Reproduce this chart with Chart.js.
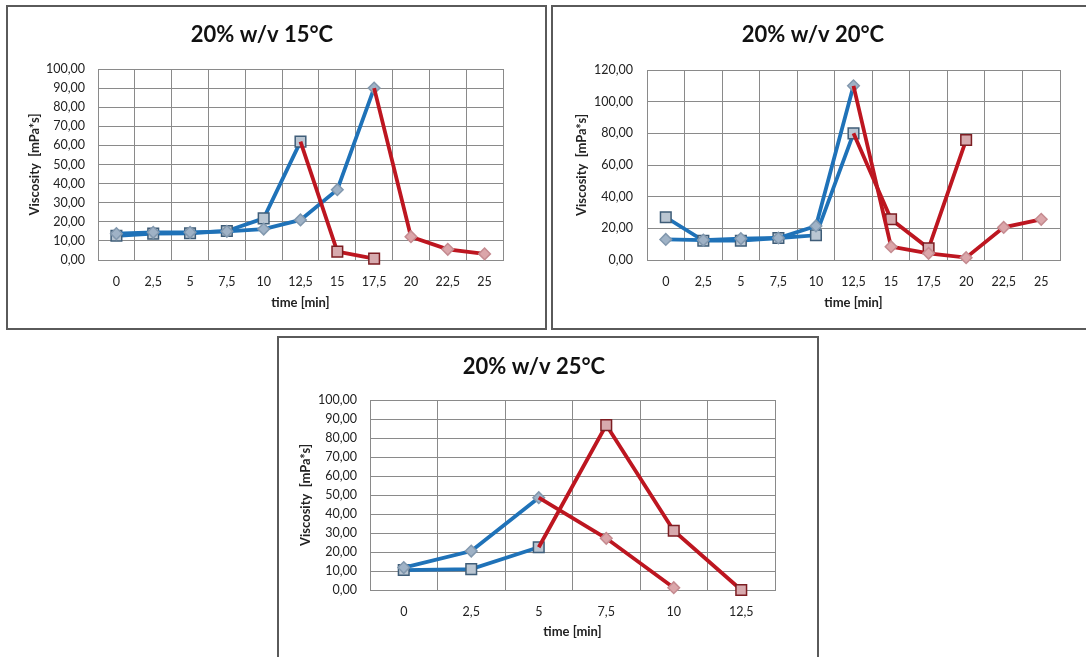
<!DOCTYPE html>
<html>
<head>
<meta charset="utf-8">
<script src="https://cdn.jsdelivr.net/npm/chart.js@4"></script>
<style>
  html, body { margin: 0; padding: 0; background: #fff; width: 1086px; height: 657px; overflow: hidden; }
  body { position: relative; }
  .box { position: absolute; border: 2px solid #5a5a5a; background: #fff; box-sizing: border-box; }
  .box canvas { position: absolute; left: 0; top: 0; }
</style>
</head>
<body>
<div class="box" style="left:6px;top:5px;width:541px;height:325px"><canvas id="c15" width="537" height="321"></canvas></div>
<div class="box" style="left:551px;top:5px;width:540px;height:325px"><canvas id="c20" width="536" height="321"></canvas></div>
<div class="box" style="left:277px;top:336px;width:542px;height:325px"><canvas id="c25" width="538" height="321"></canvas></div>
<script>
// Time points (min) for each temperature
const times15 = ['0', '2,5', '5', '7,5', '10', '12,5', '15', '17,5', '20', '22,5', '25'];
const times20 = ['0', '2,5', '5', '7,5', '10', '12,5', '15', '17,5', '20', '22,5', '25'];
const times25 = ['0', '2,5', '5', '7,5', '10', '12,5'];

// 15 °C viscosity [mPa*s]
const sqRise15 = [12.7, 13.8, 14, 15.2, 21.8, 62, null, null, null, null, null];
const sqFall15 = [null, null, null, null, null, 62, 4.4, 0.7, null, null, null];
const diRise15 = [13.8, 14.5, 14.5, 15, 16.2, 21, 36.8, 90, null, null, null];
const diFall15 = [null, null, null, null, null, null, null, 90, 12.2, 5.6, 3.2];

// 20 °C viscosity [mPa*s]
const sqRise20 = [27, 12.2, 12.2, 13.9, 15.6, 80, null, null, null, null, null];
const sqFall20 = [null, null, null, null, null, 80, 25.7, 7.4, 75.8, null, null];
const diRise20 = [13, 12.6, 13.5, 13.9, 21.5, 110, null, null, null, null, null];
const diFall20 = [null, null, null, null, null, 110, 8.4, 4.2, 1.5, 20.6, 25.7];

// 25 °C viscosity [mPa*s]
const sqRise25 = [10.5, 11, 22.5, null, null, null];
const sqFall25 = [null, null, 22.5, 86.8, 31.2, 0];
const diRise25 = [11.8, 20.5, 48.6, null, null, null];
const diFall25 = [null, null, 48.6, 27.2, 1.2, null];

const BLUE = '#1f72b8';
const RED = '#bd1620';

Chart.defaults.font.family = 'Lato, "Open Sans", sans-serif';
Chart.defaults.color = '#222';

function firstIndex(arr) {
  return arr.findIndex(v => v !== null);
}

// One line of the chart; the falling (red) part hides its first marker,
// which is the peak already marked by the rising (blue) part.
function series(values, colour, shape, fill, edge, hideFirst) {
  const start = firstIndex(values);
  const r = shape === 'rect' ? 7.5 : 5.8;
  return {
    data: values,
    borderColor: colour,
    borderWidth: 3.8,
    pointStyle: shape,
    pointBackgroundColor: fill,
    pointBorderColor: edge,
    pointBorderWidth: 1.5,
    pointRadius: ctx => (hideFirst && ctx.dataIndex === start) ? 0 : r,
    tension: 0,
    clip: false
  };
}

function datasets(sqRise, sqFall, diRise, diFall) {
  return [
    series(diFall, RED, 'rectRot', '#dba6aa', '#c58b90', true),
    series(sqFall, RED, 'rect', '#d7aaae', '#7c1d22', true),
    series(diRise, BLUE, 'rectRot', '#9fb2c6', '#8298ae', false),
    series(sqRise, BLUE, 'rect', '#bac6d2', '#3f5d78', false)
  ];
}

function makeChart(id, title, labels, sets, yMax, yStep, g) {
  new Chart(document.getElementById(id), {
    type: 'line',
    data: { labels: labels, datasets: sets },
    options: {
      responsive: false,
      animation: false,
      events: [],
      layout: { padding: { left: g.lp, right: g.rp, top: g.tp, bottom: 0 } },
      plugins: {
        legend: { display: false },
        tooltip: { enabled: false },
        title: {
          display: true,
          text: title,
          color: '#111',
          font: { size: 22, weight: 'bold' },
          padding: { top: 0, bottom: g.tb }
        }
      },
      scales: {
        x: {
          offset: true,
          grid: { color: '#8a8a8a', lineWidth: 1, drawTicks: false, offset: true },
          border: { color: '#8a8a8a', width: 1 },
          ticks: { padding: 14, autoSkip: false, maxRotation: 0, font: { size: 12.5 }, color: '#222' },
          title: {
            display: true,
            text: 'time [min]',
            color: '#222',
            font: { size: 13, weight: 'bold' },
            padding: { top: 0, bottom: g.xtp }
          },
          afterFit: s => { s.height = g.xh; }
        },
        y: {
          min: 0,
          max: yMax,
          grid: { color: '#8a8a8a', lineWidth: 1, drawTicks: false },
          border: { color: '#8a8a8a', width: 1 },
          ticks: {
            stepSize: yStep,
            padding: g.ytp,
            font: { size: 12.5 },
            color: '#222',
            callback: v => v.toFixed(2).replace('.', ',')
          },
          title: {
            display: true,
            text: 'Viscosity  [mPa*s]',
            color: '#222',
            font: { size: 13, weight: 'bold' },
            padding: { top: g.yttp, bottom: 0 }
          },
          afterFit: s => { s.width = g.yw; }
        }
      }
    }
  });
}

makeChart('c15', '20% w/v 15°C', times15,
  datasets(sqRise15, sqFall15, diRise15, diFall15), 100, 10,
  { lp: 13, rp: 42, tp: 15, tb: 20.6, yw: 77, xh: 68, xtp: 17.5, ytp: 13, yttp: 6.5 });

makeChart('c20', '20% w/v 20°C', times20,
  datasets(sqRise20, sqFall20, diRise20, diFall20), 120, 20,
  { lp: 13, rp: 29, tp: 15, tb: 21.6, yw: 81, xh: 68, xtp: 17.5, ytp: 14, yttp: 8 });

makeChart('c25', '20% w/v 25°C', times25,
  datasets(sqRise25, sqFall25, diRise25, diFall25), 100, 10,
  { lp: 14, rp: 42, tp: 15.5, tb: 20.1, yw: 77, xh: 69, xtp: 19.5, ytp: 13, yttp: 5.5 });
</script>
</body>
</html>
